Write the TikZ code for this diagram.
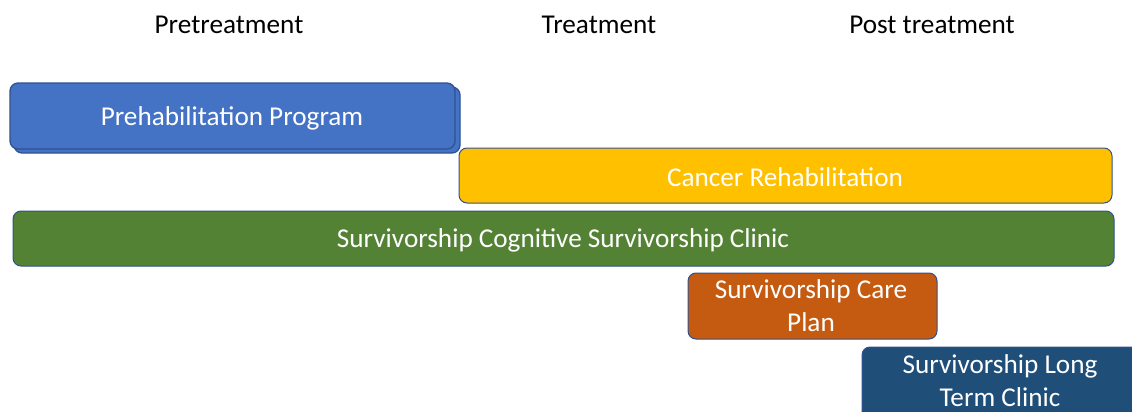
\documentclass[tikz,border=0pt]{standalone}
\usepackage{fontspec}
\setmainfont{Carlito}
\definecolor{prehab}{HTML}{4472C4}
\definecolor{prehabedge}{HTML}{2F528F}
\definecolor{rehab}{HTML}{FFC000}
\definecolor{clinic}{HTML}{548235}
\definecolor{careplan}{HTML}{C55A11}
\definecolor{longterm}{HTML}{1F4E79}
\begin{document}
\begin{tikzpicture}[x=1pt,y=-1pt,
  phase/.style={font=\fontsize{27.2}{31}\selectfont, text=black},
  bar/.style={rounded corners=8pt, draw=prehabedge, line width=1.3pt},
  bartext/.style={font=\fontsize{27.2}{33}\selectfont, text=white, align=center}]
\useasboundingbox (0,0) rectangle (1132,412);
\clip (0,0) rectangle (1132,412);
% phase headings
\node[phase] (pre)  at (229,25) {Pretreatment};
\node[phase] (trt)  at (599,25) {Treatment};
\node[phase] (post) at (932,25) {Post treatment};
% prehabilitation bar with its offset backing
\draw[bar, fill=prehab] (14,87) rectangle (460,153);
\draw[bar, fill=prehab] (10,83) rectangle (455,149);
\node[bartext] (prehabtxt) at (232,118) {Prehabilitation Program};
% cancer rehabilitation bar
\draw[bar, fill=rehab, line width=1pt] (459,148) rectangle (1112,203);
\node[bartext] (rehabtxt) at (785,177) {Cancer Rehabilitation};
% survivorship clinic bar
\draw[bar, fill=clinic, line width=1pt] (13,211) rectangle (1114,266);
\node[bartext] (clinictxt) at (563,240) {Survivorship Cognitive Survivorship Clinic};
% care plan box
\draw[bar, fill=careplan, line width=1pt] (688,273) rectangle (937,339);
\node[bartext] (careplantxt) at (811,306) {Survivorship Care\\Plan};
% long term clinic box
\draw[bar, fill=longterm, line width=1pt] (862,347) rectangle (1145,430);
\node[bartext] (longtermtxt) at (1000,381) {Survivorship Long\\Term Clinic};
\end{tikzpicture}
\end{document}
